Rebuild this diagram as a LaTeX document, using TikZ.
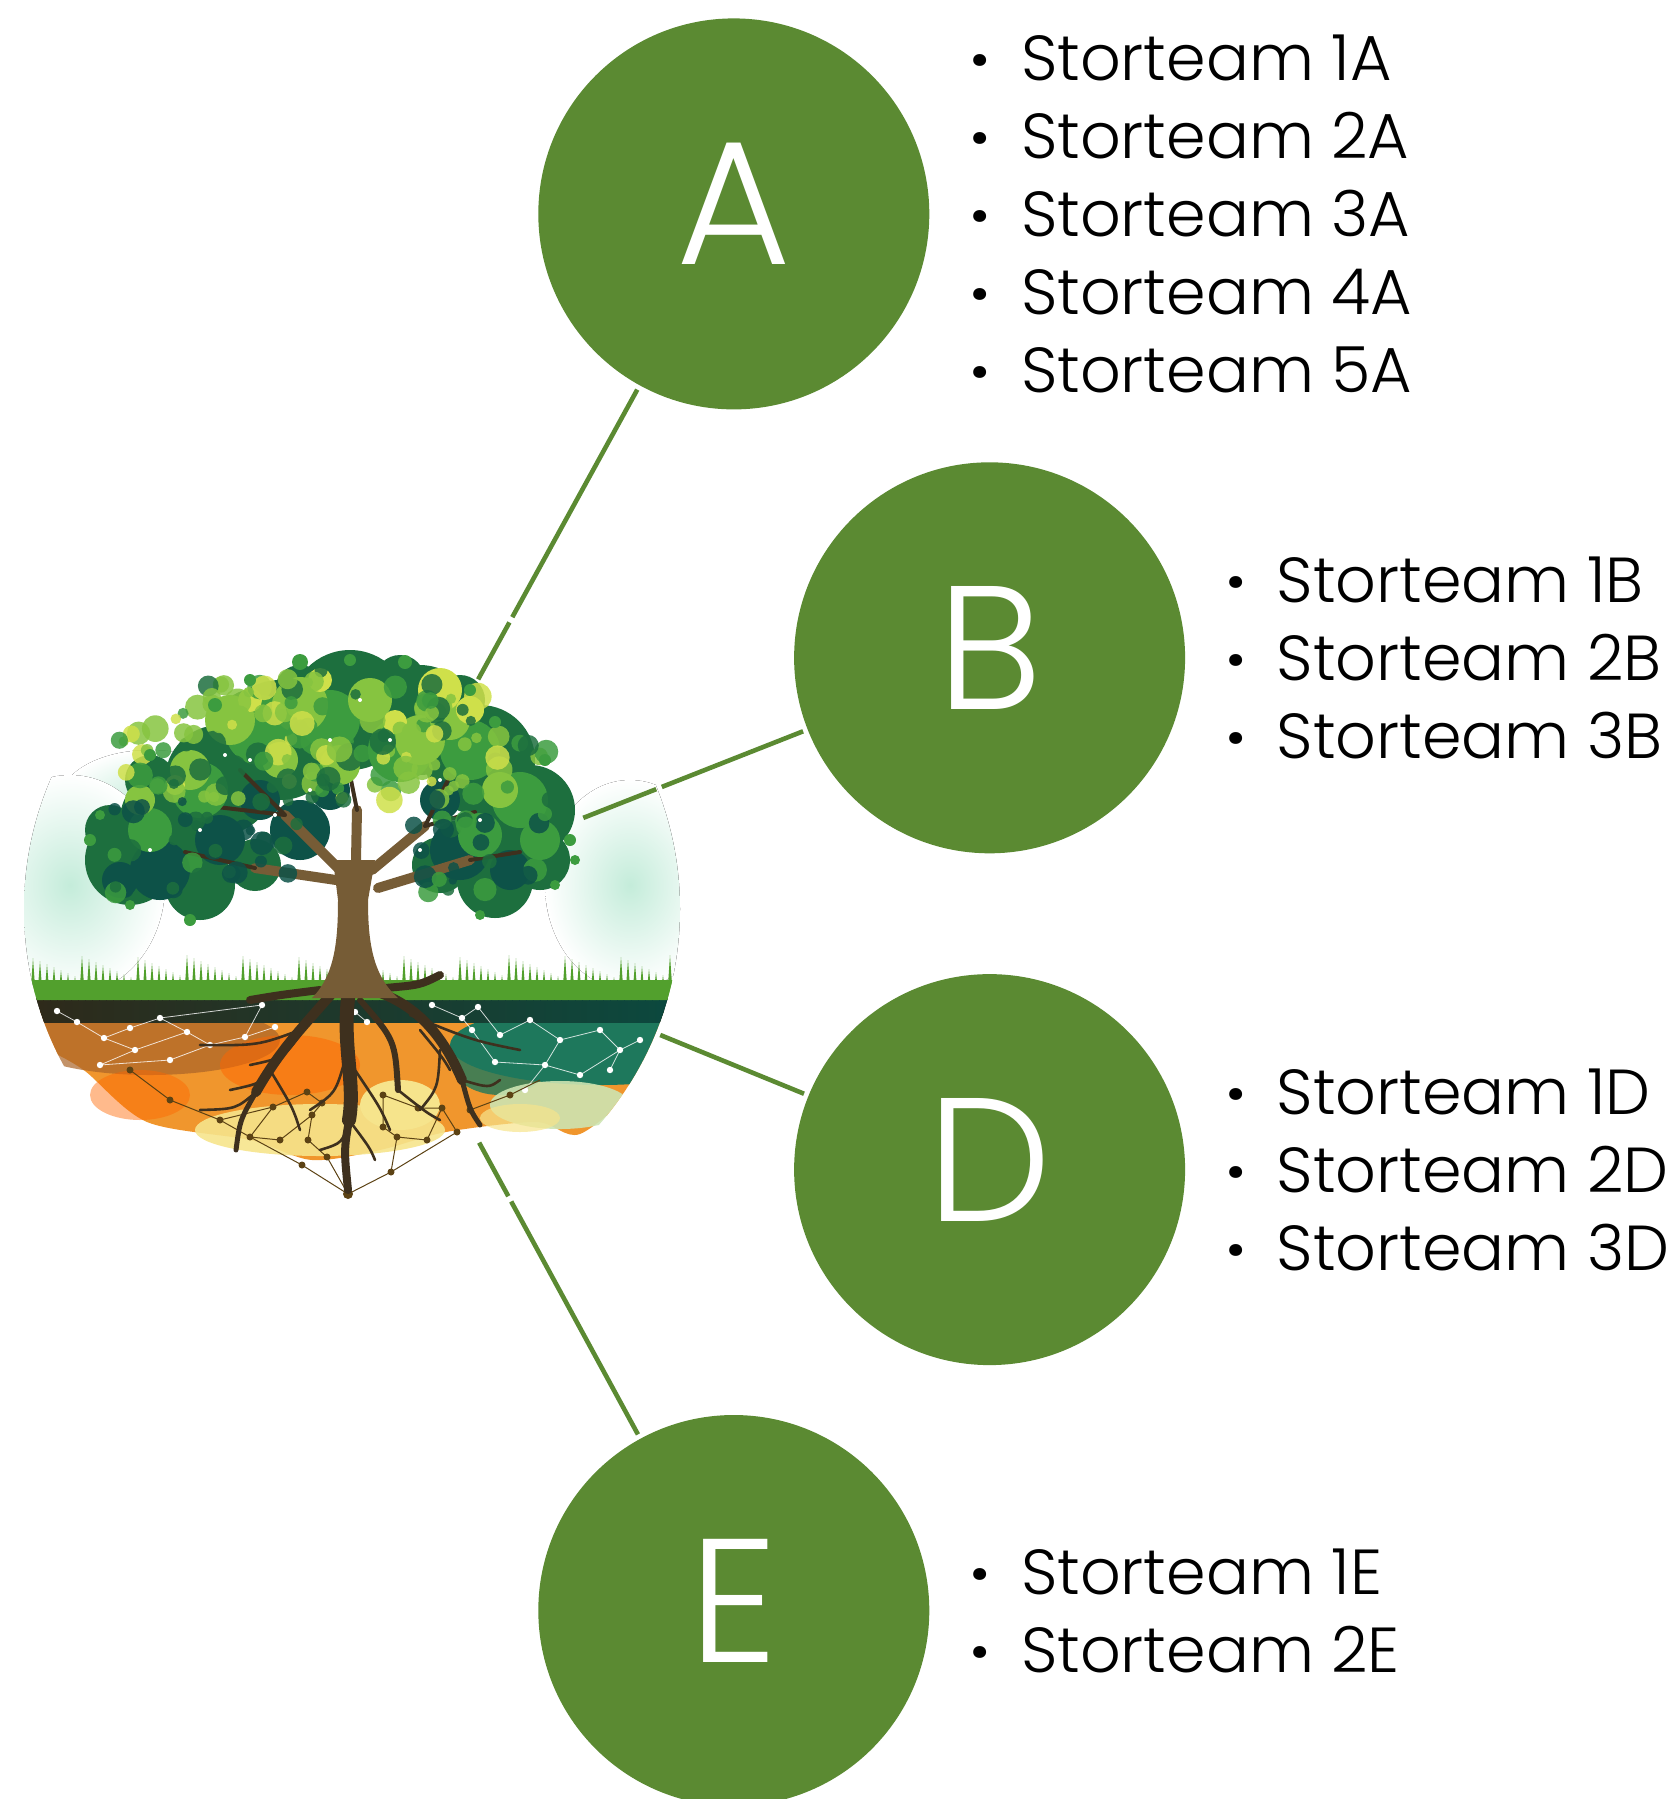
\documentclass[tikz,border=0pt]{standalone}
\usepackage{fontspec}
\setmainfont{Poppins}[UprightFont=* Light]
\newfontfamily\dotfont{Poppins}[UprightFont=* Bold]
\usepackage{tikz}
\usetikzlibrary{calc,positioning}
\definecolor{leaf}{RGB}{91,138,50}
\definecolor{crown}{RGB}{29,111,62}
\definecolor{crownteal}{RGB}{13,82,72}
\definecolor{crownmid}{RGB}{60,156,63}
\definecolor{crownlight}{RGB}{134,196,64}
\definecolor{crownsun}{RGB}{207,224,74}
\definecolor{bark}{RGB}{118,92,54}
\definecolor{barkdark}{RGB}{62,48,30}
\definecolor{grass}{RGB}{82,160,45}
\definecolor{sky}{RGB}{196,236,218}
\definecolor{soilL}{RGB}{170,100,40}
\definecolor{soilM}{RGB}{240,150,45}
\definecolor{soilR}{RGB}{30,120,92}
\definecolor{bandL}{RGB}{48,40,24}
\definecolor{bandR}{RGB}{10,74,64}
\definecolor{paleY}{RGB}{246,228,140}
\definecolor{paleG}{RGB}{205,228,178}
\definecolor{knot}{RGB}{92,66,20}
\tikzstyle{bubble} = [circle, fill=leaf, minimum size=195.5pt, inner sep=0pt,
  outer sep=2.5pt, text=white, text depth=10pt, font=\fontsize{88pt}{88pt}\selectfont]
\tikzstyle{teamlist} = [align=left, inner sep=0pt, font=\fontsize{31.8pt}{39.05pt}\selectfont]
\tikzstyle{link} = [draw=leaf, line width=2.3pt]
\tikzstyle{root} = [draw=barkdark, line cap=round]
\tikzstyle{net} = [draw=white, line width=0.4pt, opacity=.8]
\tikzstyle{netlow} = [draw=knot, line width=0.5pt]
\tikzstyle{wash} = [inner color=sky, outer color=white]
\newcommand{\li}[1]{\makebox[40.7pt][c]{\dotfont·}#1}

\begin{document}
\begin{tikzpicture}[x=0.5pt,y=-0.5pt]
\useasboundingbox (0,0) rectangle (1668,1799);
\coordinate (tree) at (352,909);

% tree picture
\begin{scope}
  \clip (tree) circle (328);
  \fill[wash] (150,800) ellipse (90 and 50);
  \fill[wash] (70,885) ellipse (95 and 110);
  \fill[wash] (630,885) ellipse (85 and 105);
  % soil
  \fill[soilM] (0,1010) -- (700,1010) -- (700,1040) -- plot[smooth] coordinates {(643,1084)
    (580,1134) (536,1122) (446,1132) (380,1150) (312,1160) (250,1140) (147,1122) (85,1071)
    (54,1053)} -- (0,1045) -- cycle;
  \fill[soilL, opacity=.7] (150,1040) ellipse (130 and 35);
  \fill[orange!80!red, opacity=.5] (290,1065) ellipse (70 and 30);
  \fill[orange!80!red, opacity=.45] (140,1095) ellipse (50 and 25);
  \fill[paleY, opacity=.9] (320,1130) ellipse (125 and 26);
  \fill[paleY] (400,1105) ellipse (40 and 25);
  \fill[soilR] (600,1045) ellipse (150 and 40);
  \fill[soilR, opacity=.8] (500,1060) ellipse (50 and 35);
  \fill[paleG, opacity=.9] (560,1105) ellipse (70 and 24);
  \fill[paleY, opacity=.7] (520,1118) ellipse (40 and 14);
  \fill[left color=bandL, middle color=barkdark!80!black, right color=bandR]
    (0,998) rectangle (700,1022);
  % grass
  \fill[grass] (0,980) rectangle (700,1000);
  \foreach \x in {2,9,...,700}
    \fill[grass] (\x,1000) -- (\x+3,{955+mod(\x*7,23)}) -- (\x+6,1000) -- cycle;
  % network
  \draw[net] (57,1011) -- (77,1022) -- (104,1038) -- (130,1028) -- (160,1018) -- (187,1032)
    -- (135,1050) -- (100,1065) -- (170,1060) -- (210,1045) -- (245,1037) -- (262,1005)
    (104,1038) -- (135,1050) (187,1032) -- (210,1045) (275,1027) -- (245,1037) (160,1018) -- (262,1005);
  \draw[net] (432,1005) -- (462,1018) -- (478,1007) -- (500,1035) -- (530,1020) -- (560,1040)
    -- (600,1030) -- (620,1050) -- (580,1075) -- (545,1065) -- (495,1062) -- (472,1030)
    -- (462,1018) (545,1065) -- (560,1040) (610,1070) -- (620,1050) -- (640,1040)
    (525,1090) -- (545,1065) (355,1012) -- (367,1022);
  \foreach \p in {(57,1011),(77,1022),(104,1038),(130,1028),(160,1018),(187,1032),(135,1050),
    (100,1065),(170,1060),(210,1045),(245,1037),(262,1005),(275,1027),(355,1012),(367,1022),
    (432,1005),(462,1018),(478,1007),(472,1030),(500,1035),(530,1020),(560,1040),(600,1030),
    (620,1050),(580,1075),(545,1065),(495,1062),(610,1070),(640,1040),(525,1090)}
    \fill[white] \p circle (3.2);
  \draw[netlow] (250,1137) -- (302,1165) -- (348,1194) -- (391,1172) -- (457,1132)
    (273,1107) -- (307,1092) -- (322,1103) -- (312,1115) -- (280,1140) -- (250,1137)
    (308,1140) -- (327,1157) -- (348,1194) (383,1095) -- (418,1108) -- (442,1108) -- (457,1132)
    (397,1137) -- (427,1140) -- (442,1108) (383,1127) -- (397,1137) -- (391,1172)
    (308,1140) -- (312,1115) (383,1095) -- (383,1127) (273,1107) -- (250,1137)
    (170,1100) -- (220,1120) -- (250,1137) (470,1110) -- (510,1095) -- (540,1080)
    (130,1070) -- (170,1100) (220,1120) -- (273,1107);
  \foreach \p in {(250,1137),(302,1165),(391,1172),(457,1132),(273,1107),(307,1092),(383,1095),
    (418,1108),(442,1108),(427,1140),(397,1137),(280,1140),(308,1140),(327,1157),(383,1127),
    (322,1103),(312,1115),(170,1100),(220,1120),(470,1110),(510,1095),(130,1070)}
    \fill[knot] \p circle (3.5);
  \fill[knot] (348,1194) circle (5);
  % roots
  \draw[root, line width=7] (350,985) .. controls (340,1040) and (356,1080) .. (349,1120);
  \draw[root, line width=4] (349,1120) .. controls (344,1150) .. (348,1190);
  \draw[root, line width=5] (335,990) .. controls (300,1030) and (280,1050) .. (256,1092);
  \draw[root, line width=5] (372,990) .. controls (420,1005) and (445,1040) .. (462,1080);
  \draw[root, line width=4] (320,990) .. controls (280,995) .. (250,1000);
  \draw[root, line width=4] (385,988) .. controls (420,985) .. (440,975);
  \draw[root, line width=3] (360,1000) .. controls (395,1040) .. (398,1090);
  \draw[root, line width=2.5] (256,1092) .. controls (240,1120) .. (236,1150);
  \draw[root, line width=2.5] (462,1080) .. controls (470,1110) .. (480,1125);
  \foreach \a/\b/\c/\d in {300/1035/250/1065, 280/1060/230/1090, 270/1070/300/1130,
    345/1060/310/1110, 355/1070/390/1130, 420/1030/450/1070, 440/1050/420/1110,
    300/1030/200/1045, 410/1015/520/1050, 398/1090/440/1120, 256/1092/200/1110,
    349/1120/320/1150, 349/1120/375/1160, 462/1080/500/1080}
    \draw[root, line width=1.3] (\a,\b) .. controls ($(\a,\b)!.5!(\c,\d)+(8,8)$) .. (\c,\d);
  % trunk and crown
  \foreach \x/\y/\r in {130/860/45, 170/820/50, 220/780/55, 280/740/60, 350/710/60,
    420/720/55, 480/760/55, 530/810/45, 540/860/30, 495/880/38, 200/885/35, 255/865/26,
    440/865/28, 340/680/25, 400/680/25, 300/690/25, 250/720/30, 460/700/25, 110/830/25,
    150/780/25}
    \fill[crown] (\x,\y) circle (\r);
  \foreach \x/\y/\r in {160/870/30, 220/840/25, 300/830/30, 330/790/20, 460/850/30,
    510/870/20, 120/880/18, 260/800/20, 440/800/20}
    \fill[crownteal] (\x,\y) circle (\r);
  \fill[bark] (312,998) .. controls (335,975) and (338,940) .. (338,900) -- (333,860)
    -- (375,860) -- (368,900) .. controls (368,940) and (372,975) .. (398,998) -- cycle;
  \draw[bark, line width=5, line cap=round] (340,870) -- (285,815) (336,880) -- (255,868)
    (356,860) -- (357,810) (372,870) -- (425,826) (378,888) -- (470,860);
  \draw[barkdark, line width=2, line cap=round] (285,815) -- (240,770) (285,815) -- (200,805)
    (425,826) -- (475,812) (425,826) -- (448,780) (357,810) -- (347,760) (255,868) -- (185,852)
    (470,860) -- (520,852);
  \foreach \x/\y/\r in {260/730/35, 330/720/30, 400/750/32, 470/750/30, 520/800/28,
    200/790/28, 150/830/22, 480/835/22, 540/840/20}
    \fill[crownmid] (\x,\y) circle (\r);
  \foreach \x/\y/\r in {230/720/25, 300/705/28, 370/700/22, 420/740/25, 340/765/20,
    190/770/20, 140/800/15, 500/790/18, 450/720/20, 280/760/18}
    \fill[crownlight] (\x,\y) circle (\r);
  \foreach \x/\y/\r in {440/690/22, 470/710/14, 395/722/12, 250/700/12, 320/680/12, 175/785/10}
    \fill[crownsun] (\x,\y) circle (\r);
  % leafy texture
  \pgfmathsetseed{11}
  \foreach \i in {1,...,140} {
    \pgfmathsetmacro\ang{180*rnd}
    \pgfmathsetmacro\rad{sqrt(rnd)}
    \pgfmathsetmacro\cx{330+235*\rad*cos(\ang)}
    \pgfmathsetmacro\cy{800-135*\rad*sin(\ang)}
    \pgfmathsetmacro\cr{5+9*rnd}
    \pgfmathtruncatemacro\k{5*rnd}
    \ifcase\k \def\cc{crown}\or\def\cc{crownmid}\or\def\cc{crownlight}\or
      \def\cc{crownlight}\else\def\cc{crownsun}\fi
    \fill[\cc, opacity=.85] (\cx,\cy) circle (\cr);
  }
  \foreach \i in {1,...,80} {
    \pgfmathsetmacro\cx{110+440*rnd}
    \pgfmathsetmacro\cy{800+95*rnd}
    \pgfmathsetmacro\cr{4+8*rnd}
    \pgfmathtruncatemacro\k{3*rnd}
    \ifcase\k \def\cc{crown}\or\def\cc{crownteal}\else\def\cc{crownmid}\fi
    \ifdim\cx pt<300pt \fill[\cc, opacity=.85] (\cx,\cy) circle (\cr);
    \else\ifdim\cx pt>405pt \fill[\cc, opacity=.85] (\cx,\cy) circle (\cr);\fi\fi
  }
  \foreach \x/\y/\r in {90/840/6, 100/815/5, 150/755/6, 215/705/7, 250/680/6, 300/662/8,
    350/660/6, 405/662/7, 470/690/6, 495/722/6, 545/760/6, 570/840/6, 575/860/5, 555/885/5,
    190/920/6, 130/905/5, 480/915/5}
    \fill[crownmid] (\x,\y) circle (\r);
  \foreach \p in {(250,760),(310,790),(390,740),(440,780),(200,830),(480,820),(360,700),
    (275,815),(420,850),(150,850),(225,755),(330,740)}
    \fill[white] \p circle (2);
\end{scope}

% groups
\node[bubble] (A) at (733.8,213.9) {A};
\node[bubble] (B) at (989.6,657.8) {B};
\node[bubble] (D) at (989.6,1169.6) {D};
\node[bubble] (E) at (733.8,1610.5) {E};

\foreach \c/\s in {A/131pt, B/124.3pt, E/133pt}
  \draw[link] ($(tree)!\s!(\c)$) -- ($(tree)!163.5pt!(\c)$)
    ($(tree)!166.5pt!(\c)$) -- (\c);
\draw[link] ($(tree)!166.5pt!(D)$) -- (D);

\node[teamlist, right=102.75pt] (listA) at (A.center) {\li{Storteam 1A}\\\li{Storteam 2A}\\
  \li{Storteam 3A}\\\li{Storteam 4A}\\\li{Storteam 5A}};
\node[teamlist, right=102.75pt] (listB) at (B.center) {\li{Storteam 1B}\\\li{Storteam 2B}\\
  \li{Storteam 3B}};
\node[teamlist, right=102.75pt] (listD) at (D.center) {\li{Storteam 1D}\\\li{Storteam 2D}\\
  \li{Storteam 3D}};
\node[teamlist, right=102.75pt] (listE) at (E.center) {\li{Storteam 1E}\\\li{Storteam 2E}};
\end{tikzpicture}
\end{document}
